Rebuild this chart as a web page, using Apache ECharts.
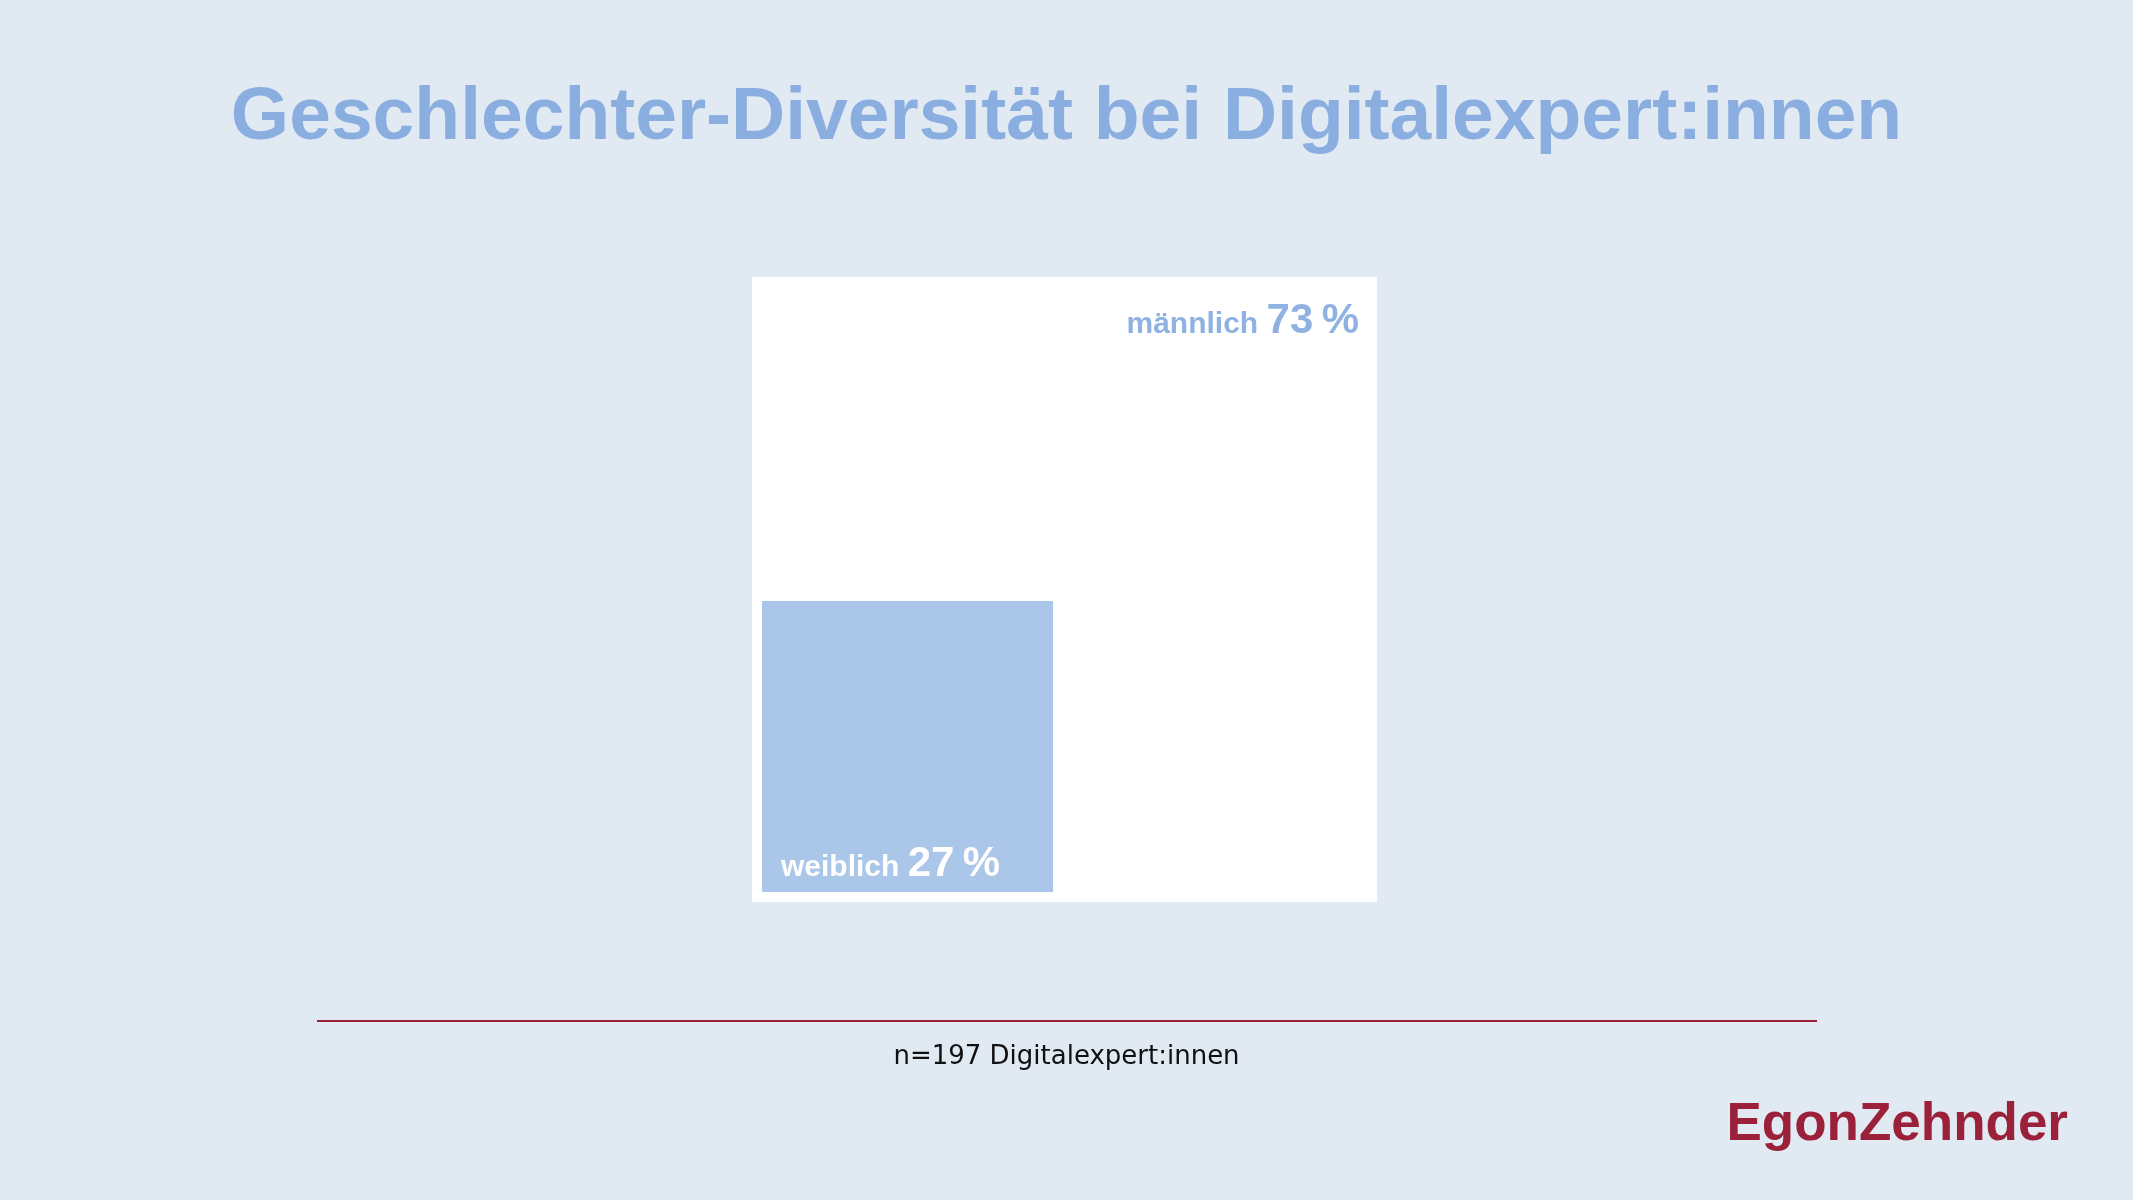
<!DOCTYPE html>
<html>
<head>
<meta charset="utf-8">
<script src="https://cdn.jsdelivr.net/npm/echarts@6/dist/echarts.min.js"></script>
<style>
  html, body { margin: 0; padding: 0; background: #e1eaf3; }
  #chart { width: 2133px; height: 1200px; }
</style>
</head>
<body>
<div id="chart"></div>
<script>
// ---- data ----
const titleText = 'Geschlechter-Diversität bei Digitalexpert:innen';
const categories = ['männlich', 'weiblich'];
const shares = [73, 27];          // percent
const footnote = 'n=197 Digitalexpert:innen';
const brand = 'EgonZehnder';

// ---- styling constants ----
const BG = '#e1eaf3';
const TITLE_COLOR = '#8aaee0';
const BLUE = '#aac6e9';
const MALE_LABEL = '#8fb2e2';
const RED = '#9b2039';
const FONT = '"Liberation Sans", Arial, Helvetica, sans-serif';
const AX_MAX = 1.08;   // axis extent: the whole white box area

const chart = echarts.init(document.getElementById('chart'), null, { renderer: 'canvas' });

function labelRich(color) {
  return {
    w: { fontFamily: FONT, fontWeight: 'bold', fontSize: 30, fill: color, verticalAlign: 'bottom', padding: [0, 5, 2, 0] },
    n: { fontFamily: FONT, fontWeight: 'bold', fontSize: 42, fill: color, verticalAlign: 'bottom' }
  };
}

function renderItem(params, api) {
  const idx = params.dataIndex;
  const name = categories[idx];
  const share = api.value(1);
  const p0 = api.coord([0, 0]);
  const text = '{w|' + name + '} {n|' + share + '\u2009%}';
  if (idx === 0) {
    // the larger group fills the whole box; label at top-right
    const p1 = api.coord([AX_MAX, AX_MAX]);
    const pad = 10;
    return {
      type: 'group',
      children: [
        { type: 'rect', shape: { x: p0[0] - pad, y: p1[1] - pad, width: (p1[0] - p0[0]) + 2 * pad, height: (p0[1] - p1[1]) + 2 * pad },
          style: { fill: '#ffffff' } },
        { type: 'text', style: {
            x: p1[0] - 8, y: p1[1] + 55, align: 'right', verticalAlign: 'bottom',
            text: text, rich: labelRich(MALE_LABEL)
          } }
      ]
    };
  }
  const side = Math.sqrt(share / 100);
  const p1 = api.coord([side, side]);
  return {
    type: 'group',
    children: [
      { type: 'rect', shape: { x: p0[0], y: p1[1], width: p1[0] - p0[0], height: p0[1] - p1[1] },
        style: { fill: BLUE } },
      { type: 'text', style: {
          x: p0[0] + 19, y: p0[1] - 7, align: 'left', verticalAlign: 'bottom',
          text: text, rich: labelRich('#ffffff')
        } }
    ]
  };
}

const option = {
  backgroundColor: BG,
  animation: false,
  grid: { left: 762, top: 287, width: 605, height: 605 },
  xAxis: { type: 'value', min: 0, max: AX_MAX, show: false },
  yAxis: { type: 'value', min: 0, max: AX_MAX, show: false },
  series: [{
    type: 'custom',
    renderItem: renderItem,
    data: categories.map((c, i) => [i, shares[i]]),
    encode: { x: [], y: [] },
    clip: false
  }],
  graphic: [
    { type: 'text', left: 'center', top: 81,
      style: { text: titleText, fill: TITLE_COLOR, font: 'bold 75px ' + FONT } },
    { type: 'line', shape: { x1: 317, y1: 1021, x2: 1817, y2: 1021 },
      style: { stroke: RED, lineWidth: 2 } },
    { type: 'text', left: 'center', top: 1044,
      style: { text: footnote, fill: '#111111', font: '26px "DejaVu Sans", sans-serif' } },
    { type: 'text', right: 2133 - 2068, top: 1099,
      style: { text: brand, fill: RED, font: 'bold 53px ' + FONT } }
  ]
};
chart.setOption(option);
</script>
</body>
</html>
